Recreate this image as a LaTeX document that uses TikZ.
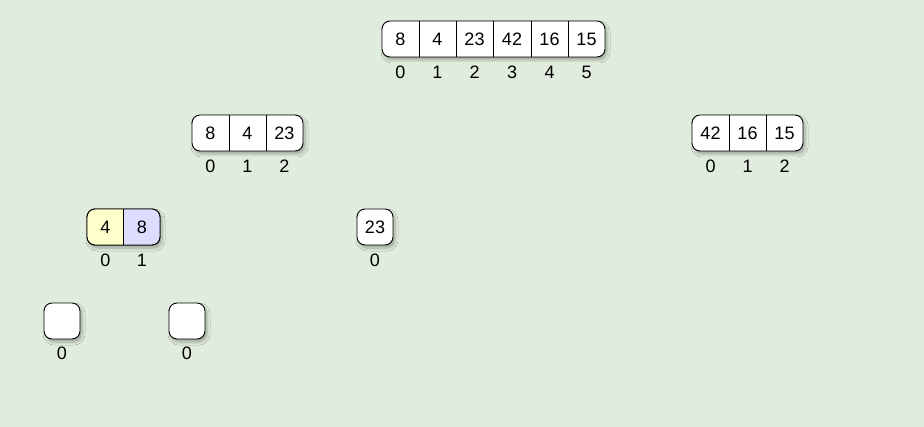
\documentclass[tikz,border=0pt]{standalone}
\usepackage{fontspec}
\setmainfont{Liberation Sans}
\usetikzlibrary{shadows.blur}
\definecolor{bgc}{RGB}{224,236,221}
\definecolor{yel}{RGB}{255,255,204}
\definecolor{blu}{RGB}{221,221,255}
\tikzset{
  arr/.style={draw=black, line width=0.9pt, rounded corners=8pt, fill=white,
    blur shadow={shadow xshift=2pt, shadow yshift=-3pt, shadow blur steps=6, shadow blur radius=3pt, shadow opacity=30}},
  frame/.style={draw=black, line width=0.9pt, rounded corners=8pt},
  sep/.style={draw=black, line width=0.8pt},
  val/.style={font=\fontsize{18}{20}\selectfont, inner sep=0pt},
  idx/.style={font=\fontsize{18}{20}\selectfont, inner sep=0pt},
}
\begin{document}
\begin{tikzpicture}[x=1pt,y=-1pt]
\fill[bgc] (0,0) rectangle (924,427);
\useasboundingbox (0,0) rectangle (924,427);

% top array
\path[arr] (382,21) rectangle (605,57);
\foreach \x in {419,456,493,531,568} \draw[sep] (\x,21) -- (\x,57);
\node[val] (a0) at (400.5,39.5) {8};
\node[val] (a1) at (437.5,39.5) {4};
\node[val] (a2) at (474.5,39.5) {23};
\node[val] (a3) at (512,39.5) {42};
\node[val] (a4) at (549.5,39.5) {16};
\node[val] (a5) at (586.5,39.5) {15};
\node[idx] (ai0) at (400.5,72.5) {0};
\node[idx] (ai1) at (437.5,72.5) {1};
\node[idx] (ai2) at (474.5,72.5) {2};
\node[idx] (ai3) at (512,72.5) {3};
\node[idx] (ai4) at (549.5,72.5) {4};
\node[idx] (ai5) at (586.5,72.5) {5};

% left level 2
\path[arr] (192,115) rectangle (303,151);
\foreach \x in {229,266} \draw[sep] (\x,115) -- (\x,151);
\node[val] (b0) at (210.5,133.5) {8};
\node[val] (b1) at (247.5,133.5) {4};
\node[val] (b2) at (284.5,133.5) {23};
\node[idx] (bi0) at (210.5,166.5) {0};
\node[idx] (bi1) at (247.5,166.5) {1};
\node[idx] (bi2) at (284.5,166.5) {2};

% right level 2
\path[arr] (692,115) rectangle (803,151);
\foreach \x in {729,766} \draw[sep] (\x,115) -- (\x,151);
\node[val] (c0) at (710.5,133.5) {42};
\node[val] (c1) at (747.5,133.5) {16};
\node[val] (c2) at (784.5,133.5) {15};
\node[idx] (ci0) at (710.5,166.5) {0};
\node[idx] (ci1) at (747.5,166.5) {1};
\node[idx] (ci2) at (784.5,166.5) {2};

% level 3 coloured
\path[arr] (87,209) rectangle (160,245);
\begin{scope}
\clip[rounded corners=8pt] (87,209) rectangle (160,245);
\fill[yel] (87,209) rectangle (123.5,245);
\fill[blu] (123.5,209) rectangle (160,245);
\end{scope}
\path[frame] (87,209) rectangle (160,245);
\draw[sep] (123.5,209) -- (123.5,245);
\node[val] (d0) at (105.5,227.5) {4};
\node[val] (d1) at (142,227.5) {8};
\node[idx] (di0) at (105.5,260.5) {0};
\node[idx] (di1) at (142,260.5) {1};

% level 3 single
\path[arr] (357,209) rectangle (393,245);
\node[val] (e0) at (375,227.5) {23};
\node[idx] (ei0) at (375,260.5) {0};

% level 4 empty
\path[arr] (44,303) rectangle (80,339);
\node[idx] (fi0) at (62,353.5) {0};
\path[arr] (169,303) rectangle (205,339);
\node[idx] (gi0) at (187,353.5) {0};
\end{tikzpicture}
\end{document}
